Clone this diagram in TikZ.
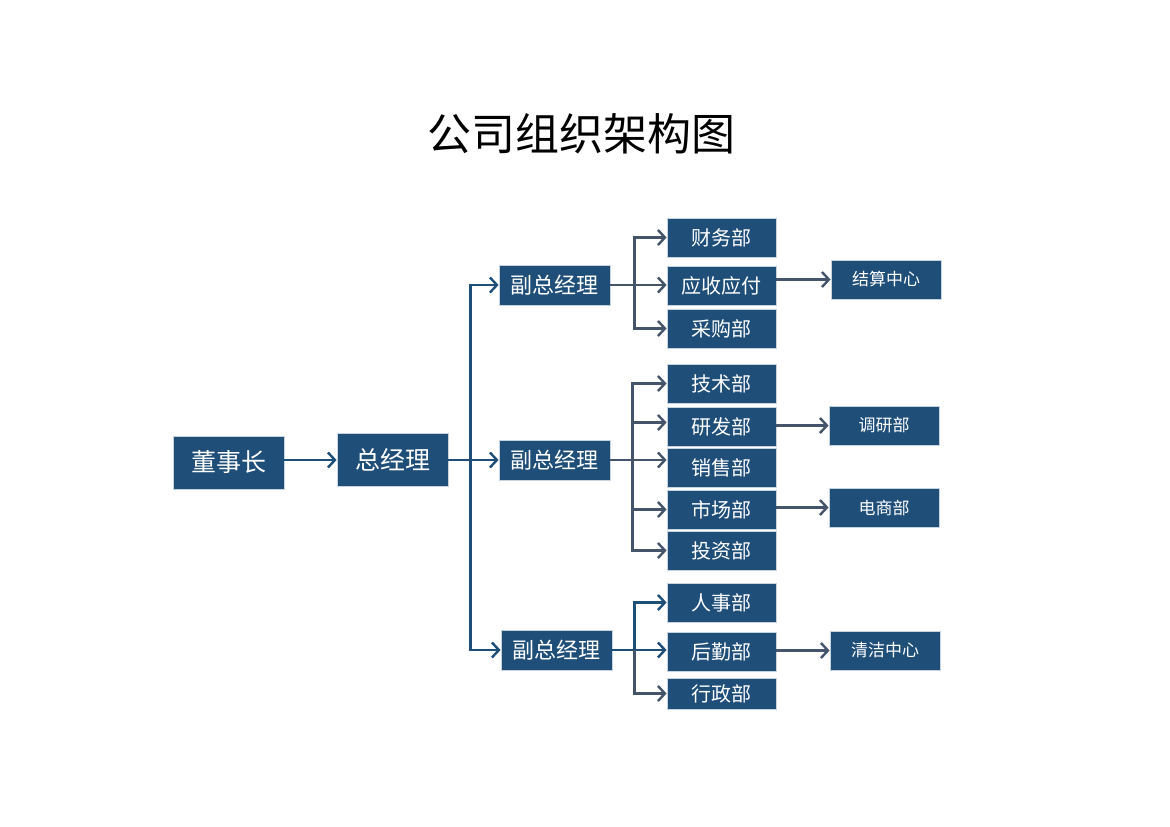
\documentclass[tikz,border=0pt]{standalone}
\usepackage{fontspec}
\newfontfamily\cjk{Noto Sans CJK SC}
\usetikzlibrary{arrows.meta,positioning}
\definecolor{boxblue}{HTML}{1F4E79}
\definecolor{linegray}{HTML}{44546A}
\tikzset{unit/.style={draw=white!75!boxblue, line width=0.8pt, fill=boxblue, text=white, inner sep=0pt,
    font=\cjk\fontsize{20}{20}\selectfont, minimum width=109pt, minimum height=39pt}}
\tikzset{top/.style={unit, font=\cjk\fontsize{25}{25}\selectfont, minimum width=111pt, minimum height=53pt}}
\tikzset{vice/.style={unit, font=\cjk\fontsize{22}{22}\selectfont, minimum width=111pt, minimum height=40pt}}
\tikzset{sub/.style={unit, font=\cjk\fontsize{17}{17}\selectfont, minimum width=110pt}}
\tikzset{edge/.style={-{Straight Barb[length=7pt,width=15pt]}, line width=2.4pt, draw=linegray}}
\tikzset{mainedge/.style={edge, draw=boxblue}}

\begin{document}
\begin{tikzpicture}[x=1pt,y=-1pt]
    \useasboundingbox (0,0) rectangle (1170,827);
    \node[font=\cjk\fontsize{44}{44}\selectfont] (title) at (581,134) {公司组织架构图};

    % top level
    \node[top] (dsz) at (228.5,462.5) {董事长};
    \node[top] (zjl) at (392.5,460) {总经理};

    % vice managers
    \node[vice] (vp1) at (554.5,285) {副总经理};
    \node[vice] (vp2) at (554.5,460) {副总经理};
    \node[vice] (vp3) at (556.5,650) {副总经理};

    % departments
    \node[unit] (cw) at (721.5,237.5) {财务部};
    \node[unit] (ys) at (721.5,285.5) {应收应付};
    \node[unit] (cg) at (721.5,328.5) {采购部};
    \node[unit] (js) at (721.5,383.5) {技术部};
    \node[unit] (yf) at (721.5,426.5) {研发部};
    \node[unit] (xs) at (721.5,467.5) {销售部};
    \node[unit] (sc) at (721.5,509.5) {市场部};
    \node[unit] (tz) at (721.5,550.5) {投资部};
    \node[unit] (rs) at (721.5,602.5) {人事部};
    \node[unit] (hq) at (721.5,651.5) {后勤部};
    \node[unit, minimum height=31pt] (xz) at (721.5,693.5) {行政部};

    % sub units
    \node[sub] (jszx) at (886,279.5) {结算中心};
    \node[sub] (dy) at (884,425.5) {调研部};
    \node[sub] (ds) at (884,507.5) {电商部};
    \node[sub] (qj) at (885,650.5) {清洁中心};

    % connectors
    \draw[mainedge] (dsz.east |- zjl) -- (zjl.west);
    \coordinate (b0) at ([xshift=22pt]zjl.east);
    \draw[line width=2.4pt, draw=boxblue] (zjl.east) -- (b0);
    \draw[mainedge] (b0) |- (vp1.west);
    \draw[mainedge] (b0) -- (vp2.west);
    \draw[mainedge] (b0) |- (vp3.west);

    \coordinate (b1) at ([xshift=24pt]vp1.east);
    \draw[edge] (vp1.east) -- (ys.west |- vp1);
    \draw[edge] (b1) |- (cw.west);
    \draw[edge] (b1) |- (cg.west);

    \coordinate (b2) at ([xshift=22pt]vp2.east);
    \draw[edge] (vp2.east) -- (xs.west |- vp2);
    \draw[edge] (b2) |- (js.west);
    \draw[edge] (b2) |- ([yshift=4pt]yf.west);
    \draw[edge] (b2) |- (sc.west);
    \draw[edge] (b2) |- (tz.west);

    \coordinate (b3) at ([xshift=22pt]vp3.east);
    \draw[mainedge] (vp3.east) -- (hq.west |- vp3);
    \draw[mainedge] (b3) |- (rs.west);
    \draw[edge] (b3) |- (xz.west);

    \draw[edge] (ys.east |- jszx) -- (jszx.west);
    \draw[edge] (yf.east |- dy) -- (dy.west);
    \draw[edge] (sc.east |- ds) -- (ds.west);
    \draw[edge] (hq.east |- qj) -- (qj.west);
\end{tikzpicture}
\end{document}
